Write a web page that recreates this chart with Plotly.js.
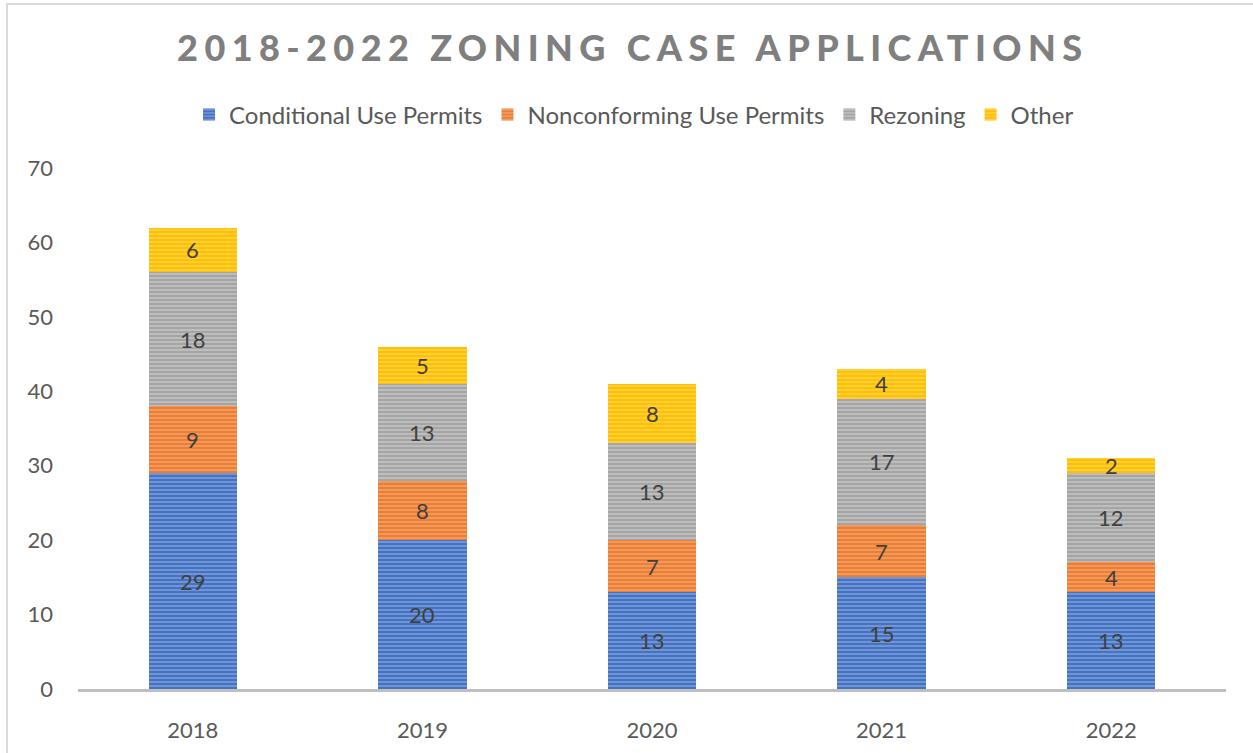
<!DOCTYPE html>
<html>
<head>
<meta charset="utf-8">
<script src="https://cdn.plot.ly/plotly-3.0.1.min.js"></script>
<style>
  html, body { margin: 0; padding: 0; background: #fff; }
  #wrap { position: relative; width: 1253px; height: 753px; }
  #chart { width: 1253px; height: 753px; }
  #frame { position: absolute; left: 6px; top: 3px; width: 1300px; height: 800px;
           border-left: 2px solid #d9d9d9; border-top: 2px solid #d9d9d9; pointer-events: none; }
  .gtitle { letter-spacing: 6.4px; }
</style>
</head>
<body>
<div id="wrap">
  <div id="chart"></div>
  <div id="frame"></div>
</div>
<script>
const years = ["2018", "2019", "2020", "2021", "2022"];
const conditionalUse = [29, 20, 13, 15, 13];
const nonconformingUse = [9, 8, 7, 7, 4];
const rezoning = [18, 13, 13, 17, 12];
const other = [6, 5, 8, 4, 2];

const seriesNames = ["Conditional Use Permits", "Nonconforming Use Permits", "Rezoning", "Other"];
const seriesValues = [conditionalUse, nonconformingUse, rezoning, other];
const baseColors = ["#4472C4", "#ED7D31", "#A5A5A5", "#FFC000"];
const stripeColors = ["#A9BEE6", "#F6BE98", "#DADADA", "#FFE080"];

const traces = seriesValues.map((vals, i) => ({
  type: "bar",
  name: seriesNames[i],
  x: years,
  y: vals,
  marker: {
    color: baseColors[i],
    line: { width: 0 },
    pattern: { shape: "-", fgcolor: stripeColors[i], bgcolor: baseColors[i], size: 4, solidity: 0.45, fillmode: "overlay" }
  },
  hoverinfo: "skip"
}));

// value labels at the middle of each segment (x given as category index)
const annotations = [];
const cum = years.map(() => 0);
seriesValues.forEach(vals => {
  vals.forEach((v, j) => {
    annotations.push({
      x: j, y: cum[j] + v / 2, xref: "x", yref: "y",
      text: String(v), showarrow: false,
      font: { family: "Lato, sans-serif", size: 22, color: "#404040" }
    });
    cum[j] += v;
  });
});

const layout = {
  width: 1253, height: 753,
  margin: { l: 78, r: 27, t: 168, b: 64 },
  paper_bgcolor: "#ffffff", plot_bgcolor: "#ffffff",
  barmode: "stack",
  bargap: 0.615,
  font: { family: "Lato, sans-serif", color: "#595959", size: 22 },
  title: {
    text: "2018-2022 ZONING CASE APPLICATIONS",
    font: { family: "Lato, sans-serif", size: 36, color: "#7f7f7f", weight: 900 },
    x: 0.505, xanchor: "center",
    y: 1 - 48 / 753, yref: "container", yanchor: "middle"
  },
  legend: {
    orientation: "h", x: 0.506, xanchor: "center", xref: "container",
    y: 1 - 115 / 753, yref: "container", yanchor: "middle",
    font: { size: 24, color: "#595959" },
    traceorder: "normal",
    itemclick: false
  },
  xaxis: {
    type: "category",
    range: [-0.5, 4.5],
    showgrid: false, zeroline: false,
    showline: true, linecolor: "#bfbfbf", linewidth: 3,
    ticks: "", ticklabelstandoff: 20,
    tickfont: { size: 22, color: "#595959" },
    fixedrange: true
  },
  yaxis: {
    range: [0, 70], dtick: 10,
    showgrid: false, zeroline: false, showline: false,
    ticks: "", ticklabelstandoff: 24,
    tickfont: { size: 22, color: "#595959" },
    fixedrange: true
  },
  annotations: annotations,
  showlegend: true
};

Plotly.newPlot("chart", traces, layout, { displayModeBar: false, staticPlot: true });
</script>
</body>
</html>
